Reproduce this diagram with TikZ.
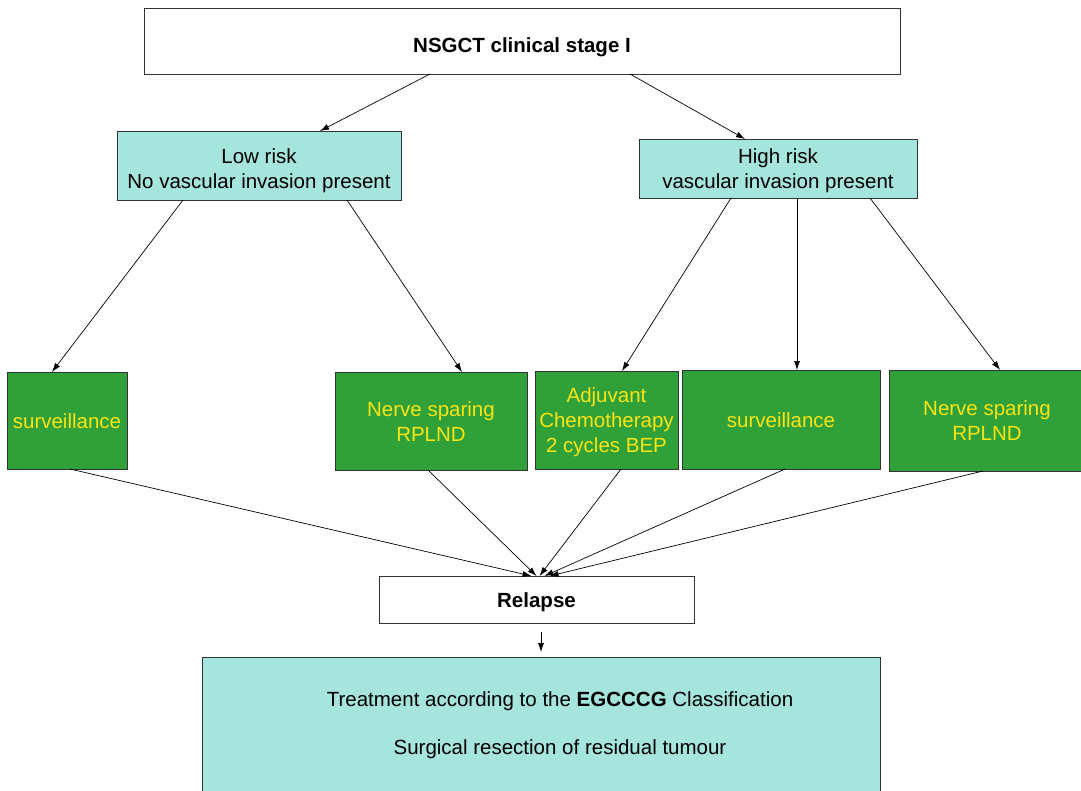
\documentclass[tikz,border=0pt]{standalone}
\usepackage{fontspec}
\setmainfont{Liberation Sans}
\usetikzlibrary{arrows.meta}

\definecolor{riskcyan}{RGB}{166,228,222}
\definecolor{optgreen}{RGB}{48,160,56}
\definecolor{optyellow}{RGB}{250,228,20}

\tikzset{
  box/.style={draw=black!80, line width=0.9pt, inner sep=0pt, outer sep=0pt,
    align=center, font=\fontsize{20.5}{25}\selectfont},
  riskbox/.style={box, fill=riskcyan},
  optbox/.style={box, fill=optgreen, text=optyellow},
  % puts the last baseline #1/2 below the middle of the box
  basedrop/.style={text height=#1, text depth=0pt},
  arr/.style={-{Latex[length=9pt,width=6pt]}, line width=0.7pt},
}

\begin{document}
\begin{tikzpicture}[x=1pt,y=-1pt]
	\useasboundingbox (0,0) rectangle (1081,790);
	\clip (0,0) rectangle (1081,790);
	\fill[white] (0,0) rectangle (1081,790);

	% stage and risk groups
	\node[box, basedrop=23pt, minimum width=756, minimum height=66] (stage) at (522,41) {\bfseries NSGCT clinical stage I};
	\node[riskbox, basedrop=46pt, minimum width=284, minimum height=69] (low) at (259,165.5) {Low risk\\No vascular invasion present};
	\node[riskbox, basedrop=40pt, minimum width=278, minimum height=59] (high) at (778,168.5) {High risk\\vascular invasion present};

	% options
	\node[optbox, basedrop=16pt, minimum width=120, minimum height=97] (surv1) at (67,420.5) {surveillance};
	\node[optbox, basedrop=41pt, minimum width=192, minimum height=98] (ns1) at (431,421) {Nerve sparing\\RPLND};
	\node[optbox, basedrop=65pt, minimum width=143, minimum height=98] (adj) at (606.5,420) {Adjuvant\\Chemotherapy\\2 cycles BEP};
	\node[optbox, basedrop=16pt, minimum width=198, minimum height=99] (surv2) at (781,419.5) {surveillance};
	\node[optbox, basedrop=40pt, minimum width=196, minimum height=101] (ns2) at (987,420.5) {Nerve sparing\\RPLND};

	% relapse and treatment
	\node[box, basedrop=16pt, minimum width=315, minimum height=47] (relapse) at (536.5,599.5) {\bfseries Relapse};
	\node[riskbox, minimum width=678, minimum height=153] (treat) at (541,733.5) {};
	\node[font=\fontsize{20.5}{25}\selectfont, align=center] (treattext) at (560,725)
		{Treatment according to the \textbf{EGCCCG} Classification\\[23pt]Surgical resection of residual tumour};

	\draw[arr] ([xshift=-92pt]stage.south) -- ([xshift=61pt]low.north);
	\draw[arr] ([xshift=108pt]stage.south) -- ([xshift=-33pt]high.north);

	\draw[arr] ([xshift=-76pt]low.south) -- ([xshift=-15pt]surv1.north);
	\draw[arr] ([xshift=88pt]low.south) -- ([xshift=31pt]ns1.north);
	\draw[arr] ([xshift=-47pt]high.south) -- ([xshift=15.5pt]adj.north);
	\draw[arr] ([xshift=19pt]high.south) -- ([xshift=16pt]surv2.north);
	\draw[arr] ([xshift=92pt]high.south) -- ([xshift=13pt]ns2.north);

	\draw[arr] ([xshift=3pt]surv1.south) -- ([xshift=-5pt]relapse.north);
	\draw[arr] ([xshift=-3pt]ns1.south) -- (relapse.north);
	\draw[arr] ([xshift=14.5pt]adj.south) -- ([xshift=3pt]relapse.north);
	\draw[arr] ([xshift=4pt]surv2.south) -- ([xshift=8pt]relapse.north);
	\draw[arr] ([xshift=-4pt]ns2.south) -- ([xshift=13pt]relapse.north);

	\draw[arr] ([xshift=4.5pt,yshift=-9pt]relapse.south) -- ([yshift=5pt]treat.north);
\end{tikzpicture}
\end{document}
